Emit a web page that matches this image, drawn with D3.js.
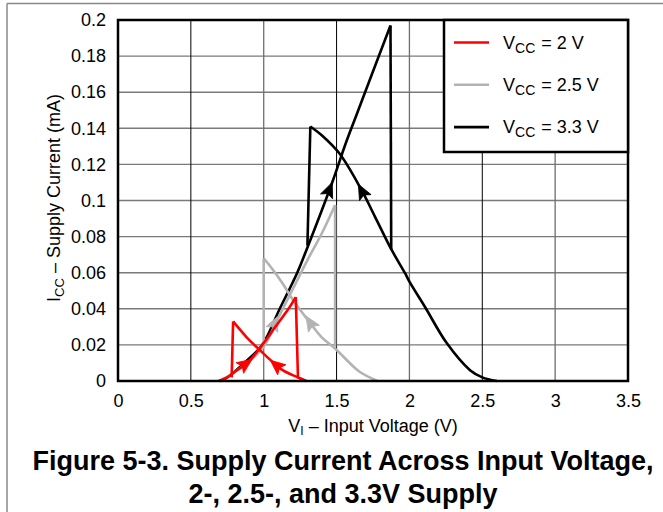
<!DOCTYPE html>
<html><head><meta charset="utf-8">
<script src="https://cdn.jsdelivr.net/npm/d3@7"></script>
<style>body{margin:0;background:#fff}</style>
</head><body><svg id="c" width="663" height="512"></svg>
<script>
// ---- data ----
const xTicks = [0, 0.5, 1, 1.5, 2, 2.5, 3, 3.5];
const xTickLabels = ["0", "0.5", "1", "1.5", "2", "2.5", "3", "3.5"];
const yTicks = [0, 0.02, 0.04, 0.06, 0.08, 0.1, 0.12, 0.14, 0.16, 0.18, 0.2];
const yTickLabels = ["0", "0.02", "0.04", "0.06", "0.08", "0.1", "0.12", "0.14", "0.16", "0.18", "0.2"];
const seriesLabels = ["= 2 V", "= 2.5 V", "= 3.3 V"];
const seriesColors = ["#ff0000", "#b3b3b3", "#000000"];

// VCC = 2 V : smooth branches and vertical jumps
const red2VUp = [[0.69,0],[0.75,0.002],[0.8,0.005],[0.9,0.011],[0.99,0.02],[1.08,0.03],[1.17,0.04],[1.22,0.0465]];
const red2VJumpDown = [[1.22,0.0465],[1.235,0.002],[1.29,0]];
const red2VDown = [[1.29,0],[1.235,0.002],[1.13,0.006],[1.055,0.011],[0.975,0.017],[0.88,0.0245],[0.79,0.033]];
const red2VJumpUp = [[0.79,0.033],[0.78,0.002]];

// VCC = 2.5 V
const gray25VUp = [[0.72,0.001],[0.8,0.005],[0.9,0.011],[1.0,0.019],[1.1,0.035],[1.2,0.051],[1.3,0.067],[1.4,0.082],[1.49,0.0975]];
const gray25VJumpDown = [[1.49,0.0975],[1.49,0.019]];
const gray25VDown = [[1.78,0],[1.66,0.005],[1.59,0.01],[1.49,0.018],[1.4,0.024],[1.32,0.032],[1.2,0.045],[1.13,0.054],[1.05,0.063],[1.0,0.068]];
const gray25VJumpUp = [[1.0,0.068],[1.0,0.019]];

// VCC = 3.3 V
const black33VUp = [[0.7,0],[0.75,0.002],[0.88,0.011],[0.99,0.02],[1.11,0.04],[1.23,0.06],[1.3,0.074],[1.47,0.11],[1.56,0.131],[1.63,0.146],[1.87,0.197]];
const black33VJumpDown = [[1.87,0.197],[1.875,0.073]];
const black33VDown = [[2.6,0],[2.5,0.002],[2.416,0.006],[2.256,0.021],[2.107,0.041],[2.0,0.055],[1.97,0.0597],[1.878,0.0726],[1.77,0.09],[1.67,0.106],[1.52,0.126],[1.4,0.136],[1.32,0.141]];
const black33VJumpUp = [[1.32,0.141],[1.30,0.075]];

// arrows: tip position and a point the arrow points away from (data units)
const arrows = [
  {s:2, tip:[1.47,0.11], from:[1.40,0.096]},
  {s:2, tip:[1.65,0.109], from:[1.72,0.098]},
  {s:1, tip:[1.10,0.036], from:[1.04,0.026]},
  {s:1, tip:[1.29,0.036], from:[1.36,0.027]},
  {s:0, tip:[0.92,0.012], from:[0.85,0.008]},
  {s:0, tip:[1.045,0.0115], from:[1.12,0.0065]}
];

// ---- drawing ----
const svg = d3.select("#c");
const W = 663, H = 512;
const m = {l:118, r:628, t:20, b:381};
const x = d3.scaleLinear().domain([0,3.5]).range([m.l, m.r]);
const y = d3.scaleLinear().domain([0,0.2]).range([m.b, m.t]);
const FONT = "'Liberation Sans', Arial, sans-serif";

svg.append("rect").attr("width",W).attr("height",H).attr("fill","#fff");
// page border
svg.append("line").attr("x1",7).attr("x2",W).attr("y1",3.5).attr("y2",3.5).attr("stroke","#888").attr("stroke-width",1.5);
svg.append("line").attr("x1",7).attr("x2",7).attr("y1",3.5).attr("y2",H).attr("stroke","#888").attr("stroke-width",1.5);

// grid
const g = svg.append("g");
g.selectAll("line.h").data(yTicks.slice(1,-1)).enter().append("line")
  .attr("x1",m.l).attr("x2",m.r).attr("y1",d=>y(d)).attr("y2",d=>y(d))
  .attr("stroke","#7a7a7a").attr("stroke-width",1.4);
g.selectAll("line.v").data(xTicks.slice(1,-1)).enter().append("line")
  .attr("y1",m.t).attr("y2",m.b).attr("x1",d=>x(d)).attr("x2",d=>x(d))
  .attr("stroke",(d,i)=> (i%2===0) ? "#000" : "#6e6e6e").attr("stroke-width",(d,i)=> (i%2===0)?1:1.3);

// axes labels via d3 axes
const xAxis = d3.axisBottom(x).tickValues(xTicks).tickFormat((d,i)=>xTickLabels[i]).tickSize(0).tickPadding(13);
const yAxis = d3.axisLeft(y).tickValues(yTicks).tickFormat((d,i)=>yTickLabels[i]).tickSize(0).tickPadding(12);
const gx = svg.append("g").attr("transform",`translate(0,${m.b})`).call(xAxis);
const gy = svg.append("g").attr("transform",`translate(${m.l},0)`).call(yAxis);
[gx,gy].forEach(a=>{ a.select(".domain").remove(); a.selectAll("text").attr("font-family",FONT).attr("font-size",18).attr("fill","#000"); });

// curves
const line = d3.line().x(d=>x(d[0])).y(d=>y(d[1]));
const smooth = d3.line().x(d=>x(d[0])).y(d=>y(d[1])).curve(d3.curveCatmullRom.alpha(0.5));
const series = [
  {c:2, smooth:[black33VUp, black33VDown], straight:[black33VJumpDown, black33VJumpUp]},
  {c:1, smooth:[gray25VUp, gray25VDown], straight:[gray25VJumpDown, gray25VJumpUp]},
  {c:0, smooth:[red2VUp, red2VDown], straight:[red2VJumpDown, red2VJumpUp]}
];
const plot = svg.append("g");
series.forEach(s=>{
  s.smooth.forEach(seg=> plot.append("path").attr("d",smooth(seg)).attr("fill","none")
    .attr("stroke",seriesColors[s.c]).attr("stroke-width",2.6).attr("stroke-linejoin","round"));
  s.straight.forEach(seg=> plot.append("path").attr("d",line(seg)).attr("fill","none")
    .attr("stroke",seriesColors[s.c]).attr("stroke-width",2.6).attr("stroke-linejoin","miter"));
  arrows.filter(a=>a.s===s.c).forEach(a=>{
    const tx=x(a.tip[0]), ty=y(a.tip[1]), fx=x(a.from[0]), fy=y(a.from[1]);
    const ang = Math.atan2(ty-fy, tx-fx)*180/Math.PI;
    plot.append("path").attr("d","M0,0 L-15,-6.5 L-12,0 L-15,6.5 Z")
      .attr("transform",`translate(${tx},${ty}) rotate(${ang})`)
      .attr("fill",seriesColors[s.c]).attr("stroke",seriesColors[s.c]).attr("stroke-width",0.8);
  });
});

// frame
svg.append("rect").attr("x",m.l).attr("y",m.t).attr("width",m.r-m.l).attr("height",m.b-m.t)
  .attr("fill","none").attr("stroke","#000").attr("stroke-width",2.5);

// legend
const lg = svg.append("g");
lg.append("rect").attr("x",444).attr("y",m.t).attr("width",m.r-444).attr("height",132)
  .attr("fill","#fff").attr("stroke","#000").attr("stroke-width",2.5);
seriesLabels.forEach((lab,i)=>{
  const yy = 42.5 + i*42.3;
  lg.append("line").attr("x1",454).attr("x2",489).attr("y1",yy).attr("y2",yy)
    .attr("stroke",seriesColors[i]).attr("stroke-width",2.6);
  const t = lg.append("text").attr("x",503).attr("y",yy+6).attr("font-family",FONT).attr("font-size",18);
  t.append("tspan").text("V");
  t.append("tspan").attr("font-size",14).attr("dy",4).text("CC");
  t.append("tspan").attr("dy",-4).attr("dx",6).text(lab);
});

// axis titles
const xt = svg.append("text").attr("x",373).attr("y",432).attr("text-anchor","middle").attr("font-family",FONT).attr("font-size",18);
xt.append("tspan").text("V");
xt.append("tspan").attr("font-size",12).attr("dy",3).text("I");
xt.append("tspan").attr("dy",-3).text(" – Input Voltage (V)");
const yt = svg.append("text").attr("transform","translate(60,198) rotate(-90)").attr("text-anchor","middle").attr("font-family",FONT).attr("font-size",18);
yt.append("tspan").text("I");
yt.append("tspan").attr("font-size",13).attr("dy",4).text("CC");
yt.append("tspan").attr("dy",-4).text(" – Supply Current (mA)");

// caption
svg.append("text").attr("x",343).attr("y",470).attr("text-anchor","middle").attr("font-family",FONT)
  .attr("font-weight","bold").attr("font-size",27).text("Figure 5-3. Supply Current Across Input Voltage,");
svg.append("text").attr("x",343).attr("y",503).attr("text-anchor","middle").attr("font-family",FONT)
  .attr("font-weight","bold").attr("font-size",27).text("2-, 2.5-, and 3.3V Supply");
</script></body></html>
